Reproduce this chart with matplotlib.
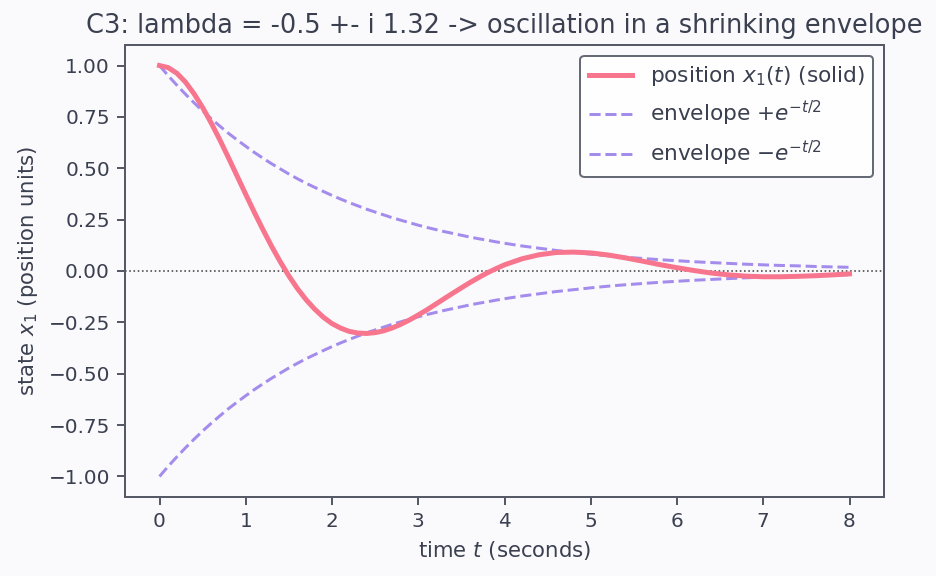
import numpy as np
import matplotlib
matplotlib.use("Agg")
import matplotlib.pyplot as plt

# time samples (seconds): fine where the curve bends strongly, coarser later
t = [0.0, 0.1, 0.2, 0.3, 0.4, 0.5, 0.6, 0.7, 0.8, 0.9,
     1.0, 1.1, 1.2, 1.3, 1.4, 1.5, 1.6, 1.7, 1.8, 1.9,
     2.0, 2.1, 2.2, 2.3, 2.4, 2.5, 2.6, 2.7, 2.8, 2.9,
     3.0, 3.1, 3.2, 3.3, 3.4, 3.5, 3.6, 3.7, 3.8, 3.9,
     4.0, 4.2, 4.4, 4.6, 4.8, 5.0, 5.2, 5.4, 5.6, 5.8,
     6.0, 6.2, 6.4, 6.6, 6.8, 7.0, 7.2, 7.4, 7.6, 7.8, 8.0]

# position x1(t)
x1 = [1.000, 0.990, 0.963, 0.920, 0.863, 0.796, 0.720, 0.638, 0.551, 0.462,
      0.373, 0.285, 0.201, 0.120, 0.045, -0.024, -0.086, -0.140, -0.186, -0.225,
      -0.256, -0.278, -0.294, -0.302, -0.304, -0.300, -0.291, -0.277, -0.259, -0.238,
      -0.214, -0.189, -0.162, -0.135, -0.108, -0.082, -0.056, -0.032, -0.009, 0.011,
      0.030, 0.059, 0.079, 0.090, 0.092, 0.088, 0.078, 0.064, 0.048, 0.031,
      0.016, 0.002, -0.010, -0.019, -0.025, -0.028, -0.028, -0.026, -0.023, -0.019,
      -0.014]

# upper envelope +e^{-t/2}
env_upper = [1.000, 0.951, 0.905, 0.861, 0.819, 0.779, 0.741, 0.705, 0.670, 0.638,
             0.607, 0.577, 0.549, 0.522, 0.497, 0.472, 0.449, 0.427, 0.407, 0.387,
             0.368, 0.350, 0.333, 0.317, 0.301, 0.287, 0.273, 0.259, 0.247, 0.235,
             0.223, 0.212, 0.202, 0.192, 0.183, 0.174, 0.165, 0.157, 0.150, 0.142,
             0.135, 0.122, 0.111, 0.100, 0.091, 0.082, 0.074, 0.067, 0.061, 0.055,
             0.050, 0.045, 0.041, 0.037, 0.033, 0.030, 0.027, 0.025, 0.022, 0.020,
             0.018]

# lower envelope -e^{-t/2}
env_lower = [-v for v in env_upper]

y_ticks = [-1.0, -0.75, -0.5, -0.25, 0.0, 0.25, 0.5, 0.75, 1.0]
x_ticks = [0, 1, 2, 3, 4, 5, 6, 7, 8]

TEXT = "#3b4050"
SPINE = "#555a66"
BG = "#fafafd"
RED = "#f7768e"
PURPLE = "#a48cec"

plt.rcParams['font.family'] = ['DejaVu Sans']
plt.rcParams['text.color'] = TEXT
plt.rcParams['axes.labelcolor'] = TEXT
plt.rcParams['xtick.color'] = TEXT
plt.rcParams['ytick.color'] = TEXT

fig = plt.figure(figsize=(6.5, 4.0), dpi=144, facecolor=BG)
ax = fig.add_axes([125/936, 1 - 497/576, (884-125)/936, (497-45)/576])
ax.set_facecolor(BG)

ax.plot(t, x1, color=RED, lw=2.5, label=r"position $x_1(t)$ (solid)", zorder=3)
ax.plot(t, env_upper, color=PURPLE, lw=1.5, ls=(0, (3.7, 1.6)), label=r"envelope $+e^{-t/2}$", zorder=2)
ax.plot(t, env_lower, color=PURPLE, lw=1.5, ls=(0, (3.7, 1.6)), label=r"envelope $-e^{-t/2}$", zorder=2)
ax.axhline(0, color="#444444", lw=0.8, ls=":", zorder=1)

ax.set_xticks(x_ticks)
ax.set_yticks(y_ticks)
ax.set_yticklabels([f"{v:.2f}".replace("-", "\u2212") for v in y_ticks])
ax.tick_params(labelsize=10, length=4, width=1, color=SPINE)
for s in ax.spines.values():
    s.set_color(SPINE)
    s.set_linewidth(1.0)

ax.set_xlabel(r"time $t$ (seconds)", fontsize=10.6)
ax.set_ylabel(r"state $x_1$ (position units)", fontsize=10.6)
ax.set_title("C3: lambda = -0.5 +- i 1.32 -> oscillation in a shrinking envelope",
             fontsize=12.8, color=TEXT, pad=6)

leg = ax.legend(loc="upper right", fontsize=10.8, frameon=True, fancybox=True)
leg.get_frame().set_edgecolor(SPINE)
leg.get_frame().set_facecolor("white")
leg.get_frame().set_alpha(0.9)
leg.get_frame().set_linewidth(1.0)

fig.savefig("out.png", dpi=144, facecolor=BG)
